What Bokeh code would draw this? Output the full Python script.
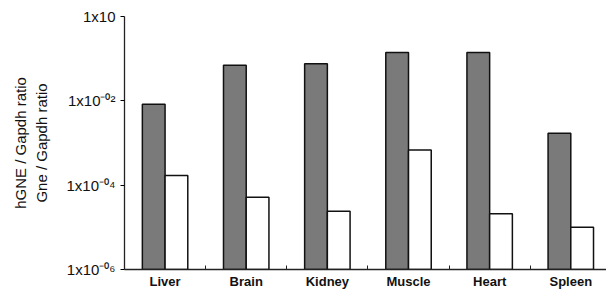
from bokeh.plotting import figure
from bokeh.models import Range1d, FixedTicker, ColumnDataSource
from bokeh.embed import file_html
from bokeh.resources import INLINE

tissues = ["Liver", "Brain", "Kidney", "Muscle", "Heart", "Spleen"]
hGNE = [8.3e-3, 7.0e-2, 7.6e-2, 1.4e-1, 1.4e-1, 1.7e-3]
Gne = [1.7e-4, 5.2e-5, 2.4e-5, 6.8e-4, 2.1e-5, 1.0e-5]
y_ticks = [1e-6, 1e-4, 1e-2, 1]
y_tick_labels = ["1x10\u207b\u2070\u2076", "1x10\u207b\u2070\u2074", "1x10\u207b\u2070\u00b2", "1x10"]

centers = [i + 0.5 for i in range(len(tissues))]
w = 0.28
src = ColumnDataSource(dict(
    xd=[c - w / 2 for c in centers],
    xw=[c + w / 2 for c in centers],
    hGNE=hGNE, Gne=Gne, bottom=[1e-6] * len(tissues)))

p = figure(width=606, height=291, y_axis_type="log",
           x_range=Range1d(0, 5.94), y_range=Range1d(1e-6, 1),
           output_backend="svg", toolbar_location=None,
           min_border_left=124, min_border_right=0,
           min_border_top=16, min_border_bottom=22)
p.outline_line_color = None
p.grid.visible = False

p.vbar(x="xd", width=w, top="hGNE", bottom="bottom", source=src,
       fill_color="#7a7a7a", line_color="#111111", line_width=1.5)
p.vbar(x="xw", width=w, top="Gne", bottom="bottom", source=src,
       fill_color="white", line_color="#111111", line_width=1.5)

xa = p.xaxis[0]
xa.ticker = FixedTicker(ticks=centers, minor_ticks=[1, 2, 3, 4, 5])
xa.major_label_overrides = {c: t for c, t in zip(centers, tissues)}
xa.major_tick_in = 0
xa.major_tick_out = 0
xa.minor_tick_in = 4
xa.minor_tick_out = 0
xa.minor_tick_line_color = "#222222"
xa.axis_line_color = "#222222"
xa.axis_line_width = 1.3
xa.major_label_text_font = "Liberation Sans"
xa.major_label_text_font_style = "bold"
xa.major_label_text_font_size = "13px"
xa.major_label_text_color = "#111111"
xa.major_label_standoff = 4

ya = p.yaxis[0]
ya.ticker = FixedTicker(ticks=y_ticks, minor_ticks=[])
ya.major_label_overrides = {t: l for t, l in zip(y_ticks, y_tick_labels)}
ya.major_tick_in = 0
ya.major_tick_out = 4
ya.axis_line_color = "#222222"
ya.axis_line_width = 1.3
ya.major_label_text_font = "Liberation Sans"
ya.major_label_text_font_size = "15px"
ya.major_label_text_color = "#111111"
ya.major_label_standoff = 5
ya.axis_label = "hGNE / Gapdh ratio\nGne / Gapdh ratio"
ya.axis_label_text_font = "Liberation Sans"
ya.axis_label_text_font_style = "normal"
ya.axis_label_text_font_size = "15px"
ya.axis_label_text_color = "#111111"
ya.axis_label_standoff = 14

open("out.html", "w").write(file_html(p, INLINE))
